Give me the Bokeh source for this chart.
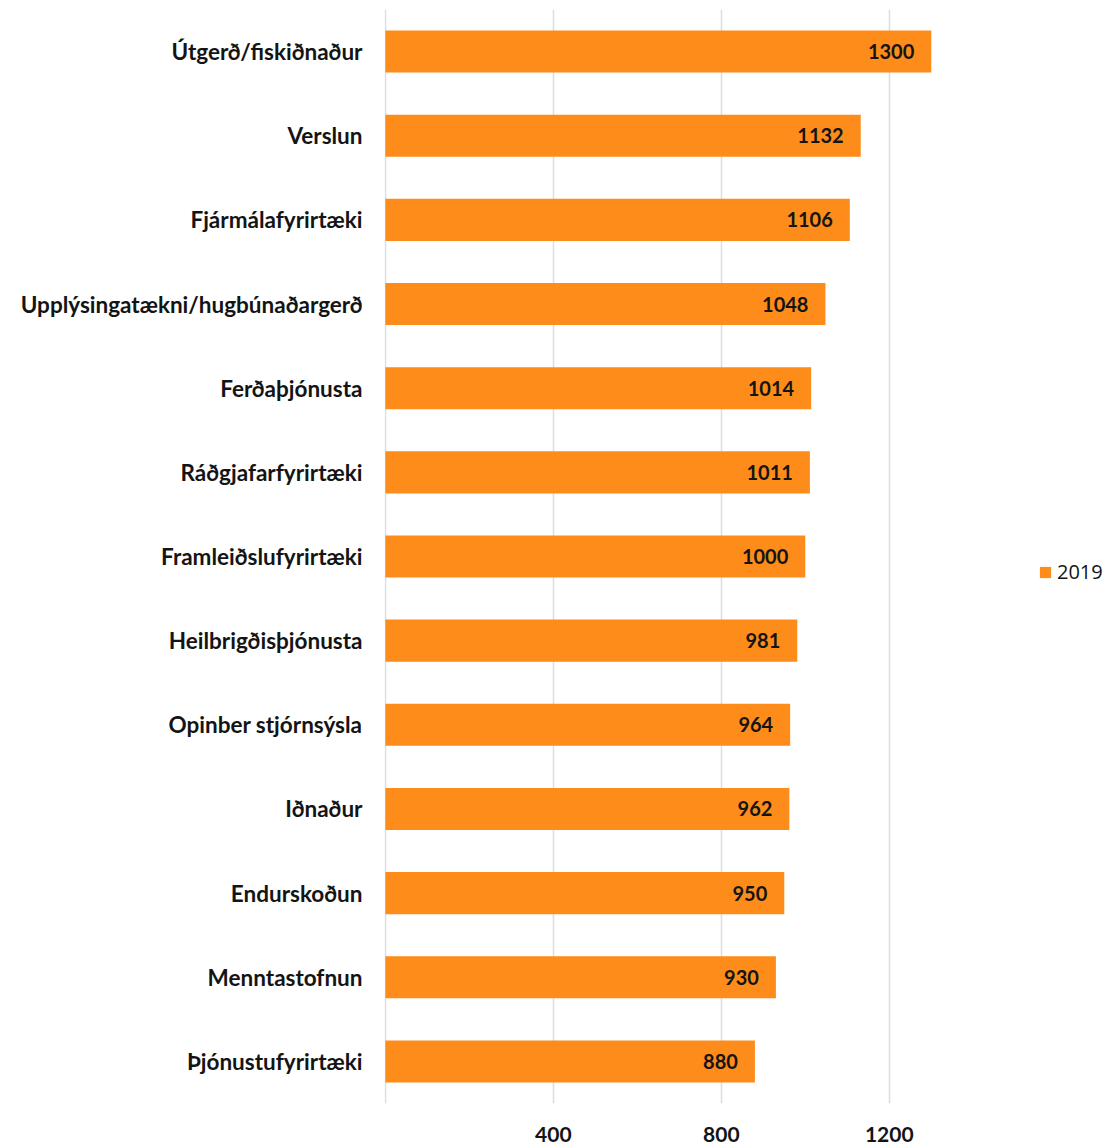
from bokeh.plotting import figure
from bokeh.models import (FactorRange, Range1d, FixedTicker, ColumnDataSource,
                          LabelSet, Legend, LegendItem)
from bokeh.core.properties import value
from bokeh.embed import file_html
from bokeh.resources import INLINE

categories = ["Útgerð/fiskiðnaður", "Verslun", "Fjármálafyrirtæki",
              "Upplýsingatækni/hugbúnaðargerð", "Ferðaþjónusta",
              "Ráðgjafarfyrirtæki", "Framleiðslufyrirtæki",
              "Heilbrigðisþjónusta", "Opinber stjórnsýsla", "Iðnaður",
              "Endurskoðun", "Menntastofnun", "Þjónustufyrirtæki"]
values = [1300, 1132, 1106, 1048, 1014, 1011, 1000, 981, 964, 962, 950, 930, 880]
series_name = "2019"
x_ticks = [0, 400, 800, 1200]

ORANGE = "#FD8C1A"
TEXT = "#141414"
FONT = "Lato"

src = ColumnDataSource(dict(cat=categories, val=values,
                            lab=[str(v) for v in values]))

p = figure(y_range=FactorRange(factors=list(reversed(categories)), range_padding=0),
           x_range=Range1d(-2, 1722),
           frame_width=724, frame_height=1094,
           min_border_left=384, min_border_right=0,
           min_border_top=9, min_border_bottom=41,
           output_backend="svg", toolbar_location=None)
p.outline_line_color = None
p.background_fill_color = "white"

r = p.hbar(y="cat", right="val", left=0, height=0.5, source=src,
           fill_color=ORANGE, line_color=None)

labels = LabelSet(x="val", y="cat", text="lab", source=src, x_offset=-17,
                  text_align="right", text_baseline="middle",
                  text_font=value(FONT), text_font_style="bold",
                  text_font_size="20px", text_color=TEXT)
p.add_layout(labels)

# x axis
p.xaxis.ticker = FixedTicker(ticks=x_ticks)
p.xaxis.major_label_overrides = {0: ""}
p.xaxis.axis_line_color = None
p.xaxis.major_tick_line_color = None
p.xaxis.minor_tick_line_color = None
p.xaxis.major_label_standoff = 17
p.xaxis.major_label_text_font = FONT
p.xaxis.major_label_text_font_style = "bold"
p.xaxis.major_label_text_font_size = "21px"
p.xaxis.major_label_text_color = TEXT

p.xgrid.ticker = FixedTicker(ticks=x_ticks)
p.xgrid.grid_line_color = "#D9DEE6"
p.xgrid.grid_line_width = 1.5
p.ygrid.visible = False

# y axis
p.yaxis.axis_line_color = None
p.yaxis.major_tick_line_color = None
p.yaxis.minor_tick_line_color = None
p.yaxis.major_label_standoff = 16
p.yaxis.major_label_text_font = FONT
p.yaxis.major_label_text_font_style = "bold"
p.yaxis.major_label_text_font_size = "22.5px"
p.yaxis.major_label_text_color = TEXT

legend = Legend(items=[LegendItem(label=series_name, renderers=[r])],
                location=(654, 518), padding=0, margin=0, spacing=0,
                glyph_width=14, glyph_height=14, label_standoff=5,
                label_text_font="Open Sans", label_text_font_size="20px",
                label_text_color=TEXT, border_line_color=None,
                background_fill_alpha=0)
p.add_layout(legend)

open("out.html", "w").write(file_html(p, INLINE))
